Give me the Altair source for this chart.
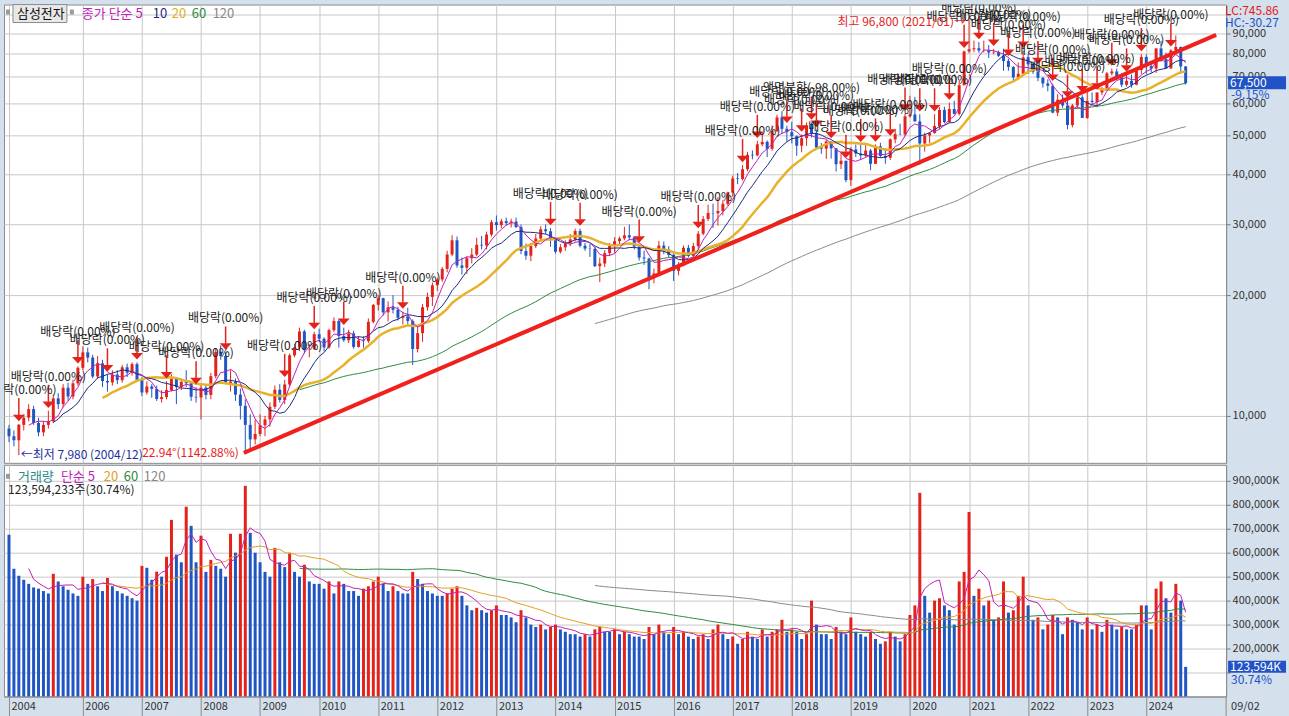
import altair as alt
import pandas as pd

FONT = "Noto Sans CJK KR"
RED = "#e3231b"
BLUE = "#1f56c3"
BG = "#d5e0ed"
GRID = "#c8c8c8"

# ---- monthly candles, 2004-10 .. 2024-09 (split-adjusted KRW) ----
opens = [
    9300, 8900, 8700,
    9500, 9900, 10400, 9600, 9100, 9500, 9700, 11060, 10700, 11760, 11180, 12060,
    13180, 14400, 13980, 12540, 13520, 12220, 12120, 12680, 12280, 13220, 12820, 13460,
    12300, 11440, 11840, 11680, 11020, 11140, 11600, 12380, 11800, 12160, 12060, 11160,
    11120, 11760, 11280, 12560, 14440, 14100, 12060, 12180, 11300, 10600, 9500, 8740,
    9020, 9480, 9800, 10540, 11620, 10960, 11980, 14160, 14820, 16240, 14660, 14700,
    15980, 15580, 14820, 16360, 17240, 15820, 15440, 16060, 14860, 15420, 15360, 17160,
    18920, 19660, 18120, 18660, 18380, 17560, 17700, 17240, 14680, 16080, 18660, 19800,
    21160, 21880, 23260, 25260, 27400, 23720, 23400, 24720, 25240, 26700, 26600, 28320,
    30400, 29900, 30580, 30240, 30520, 29580, 25760, 25080, 26500, 27680, 29180, 28860,
    27440, 25660, 26320, 26920, 27540, 28900, 26560, 26120, 26080, 23620, 23980, 25460,
    26540, 27260, 27700, 28200, 27860, 26440, 24820, 24680, 22140, 22660, 26580, 25980,
    25200, 23000, 23720, 26240, 25060, 26500, 28440, 30960, 32060, 32000, 32420, 33780,
    36040, 39080, 38940, 41200, 44760, 44600, 47540, 48200, 46320, 51280, 55460, 51940,
    50960, 49800, 47140, 49220, 53000, 50700, 46650, 46350, 48300, 46450, 42400, 43250,
    38700, 46150, 45100, 44650, 45850, 42500, 47000, 44450, 44000, 48900, 50400, 50300,
    55800, 56400, 54200, 47750, 50000, 50700, 52800, 57900, 54000, 58200, 56600, 66700,
    81000, 82000, 82500, 81400, 81500, 80500, 80700, 79000, 76700, 74100, 69800, 71300,
    78300, 75200, 72100, 69600, 67400, 66500, 57000, 61400, 59400, 53100, 59400, 62200,
    55300, 61000, 60600, 64000, 65500, 71400, 72200, 69800, 66900, 68400, 66900, 72800,
    78500, 74400, 73400, 82400, 77500, 73500, 81500, 83100, 74300,
]
highs = [
    9500, 9200, 9550,
    10100, 10700, 10600, 9900, 9700, 10300, 11300, 11400, 12000, 12100, 12300, 13300,
    14900, 14800, 14200, 14100, 13800, 12700, 13000, 13000, 13400, 13500, 13600, 13600,
    12500, 12200, 12000, 11900, 11600, 12200, 12700, 12500, 12400, 13000, 12200, 11800,
    12000, 12000, 12800, 14700, 15000, 14400, 13000, 12400, 11700, 11000, 10100, 9800,
    10100, 10000, 10800, 11900, 12000, 12300, 14300, 15100, 16600, 16400, 15100, 16200,
    16500, 15700, 16500, 17600, 17400, 16600, 16400, 16300, 15800, 15800, 17500, 19000,
    20000, 19700, 19300, 20000, 18700, 18200, 18600, 17400, 16700, 19000, 20300, 21500,
    22100, 23500, 25800, 28200, 28000, 24800, 25000, 26200, 27800, 28100, 28800, 30800,
    31600, 31000, 31200, 31000, 31200, 30000, 26900, 27000, 28400, 29700, 30000, 29400,
    27600, 26800, 27400, 28400, 29300, 29300, 27000, 26900, 26400, 24800, 25900, 27000,
    27900, 28000, 29600, 30000, 28000, 26600, 25800, 24800, 23300, 27300, 27200, 26500,
    25400, 24200, 26600, 26700, 27000, 28900, 31500, 33600, 33800, 35100, 34500, 36200,
    39700, 40300, 42200, 45500, 45900, 48500, 51000, 48600, 53000, 56300, 57520, 52900,
    54100, 50000, 50300, 53900, 53900, 51700, 47900, 48800, 48450, 46500, 45200, 43250,
    46750, 47500, 47400, 47850, 46300, 47500, 47950, 46500, 49150, 51700, 53500, 56700,
    62800, 62400, 56500, 50800, 51000, 56500, 58800, 59000, 60400, 61000, 68500, 81300,
    96800, 86200, 85500, 86200, 84000, 82200, 81400, 82300, 77700, 74400, 76000, 81300,
    79800, 76400, 74100, 70000, 69000, 67300, 63400, 63300, 61100, 59900, 63200, 63000,
    64600, 64000, 64000, 66000, 72000, 73400, 73400, 71400, 71000, 71000, 73000, 79800,
    79600, 75200, 82500, 86000, 80500, 82000, 88800, 83300, 74500,
]
lows = [
    8600, 8400, 7980,
    9200, 9700, 9500, 8900, 8900, 9300, 9600, 10400, 10500, 10900, 11000, 11900,
    13000, 13600, 12400, 12400, 11800, 11500, 11900, 12000, 12100, 12500, 12600, 12200,
    11200, 11300, 11100, 10900, 10800, 11000, 11500, 10700, 11600, 11800, 10900, 10800,
    9800, 11000, 11000, 12400, 13800, 12000, 11500, 10900, 9800, 8150, 8200, 8500,
    8900, 8900, 9400, 10400, 10800, 10700, 11800, 14000, 14500, 14300, 14000, 14600,
    15300, 14500, 14700, 16200, 14800, 15300, 15200, 14700, 14800, 14800, 15200, 17000,
    18300, 17800, 17200, 18000, 17300, 16900, 16900, 13400, 14400, 15300, 18300, 18800,
    20500, 21600, 22800, 25000, 23400, 22500, 22600, 24000, 25000, 26000, 26000, 28000,
    29000, 29400, 29800, 29500, 29400, 25300, 24500, 24300, 26200, 27300, 28400, 26400,
    25400, 25400, 25800, 26500, 27200, 26300, 25800, 24900, 23500, 21560, 23500, 25000,
    25500, 26800, 27400, 27400, 26000, 24400, 23800, 20700, 21400, 22500, 25300, 24900,
    21700, 22400, 23600, 24800, 24300, 25900, 28200, 30600, 29400, 29800, 31600, 33400,
    35200, 37800, 38600, 40700, 43600, 44400, 47000, 44200, 45800, 51000, 50500, 48300,
    47800, 44500, 45400, 47100, 49400, 46500, 45000, 43700, 43800, 40650, 41250, 38250,
    37450, 44200, 43400, 44200, 41000, 42450, 44050, 42500, 43450, 47800, 50100, 49800,
    55400, 54200, 42300, 45600, 47850, 50500, 51800, 53600, 53800, 56400, 56100, 66700,
    80200, 80600, 80300, 80500, 78000, 79600, 78500, 72500, 72500, 68300, 69000, 71000,
    71200, 71200, 68300, 65800, 64400, 56800, 55900, 58600, 51800, 52400, 58300, 55300,
    55000, 59800, 58800, 63000, 64600, 70600, 68700, 66000, 66200, 65800, 66700, 71200,
    71200, 71700, 71600, 76300, 73300, 73300, 79500, 71400, 67000,
]
closes = [
    8900, 8700, 9500,
    9900, 10400, 9600, 9100, 9500, 9700, 11060, 10700, 11760, 11180, 12060, 13180,
    14400, 13980, 12540, 13520, 12220, 12120, 12680, 12280, 13220, 12820, 13460, 12300,
    11440, 11840, 11680, 11020, 11140, 11600, 12380, 11800, 12160, 12060, 11160, 11120,
    11760, 11280, 12560, 14440, 14100, 12060, 12180, 11300, 10600, 9500, 8740, 9020,
    9480, 9800, 10540, 11620, 10960, 11980, 14160, 14820, 16240, 14660, 14700, 15980,
    15580, 14820, 16360, 17240, 15820, 15440, 16060, 14860, 15420, 15360, 17160, 18920,
    19660, 18120, 18660, 18380, 17560, 17700, 17240, 14680, 16080, 18660, 19800, 21160,
    21880, 23260, 25260, 27400, 23720, 23400, 24720, 25240, 26700, 26600, 28320, 30400,
    29900, 30580, 30240, 30520, 29580, 25760, 25080, 26500, 27680, 29180, 28860, 27440,
    25660, 26320, 26920, 27540, 28900, 26560, 26120, 26080, 23620, 23980, 25460, 26540,
    27260, 27700, 28200, 27860, 26440, 24820, 24680, 22140, 22660, 26580, 25980, 25200,
    23000, 23720, 26240, 25060, 26500, 28440, 30960, 32060, 32000, 32420, 33780, 36040,
    39080, 38940, 41200, 44760, 44600, 47540, 48200, 46320, 51280, 55460, 51940, 50960,
    49800, 47140, 49220, 53000, 50700, 46650, 46350, 48300, 46450, 42400, 43250, 38700,
    46150, 45100, 44650, 45850, 42500, 47000, 44450, 44000, 48900, 50400, 50300, 55800,
    56400, 54200, 47750, 50000, 50700, 52800, 57900, 54000, 58200, 56600, 66700, 81000,
    82000, 82500, 81400, 81500, 80500, 80700, 79000, 76700, 74100, 69800, 71300, 78300,
    75200, 72100, 69600, 67400, 66500, 57000, 61400, 59400, 53100, 59400, 62200, 55300,
    61000, 60600, 64000, 65500, 71400, 72200, 69800, 66900, 68400, 66900, 72800, 78500,
    74400, 73400, 82400, 77500, 73500, 81500, 83100, 74300, 67500,
]
# volume in thousands of shares (K)
volumes = [
    675000, 533000, 504000,
    487000, 470000, 455000, 450000, 440000, 430000, 512000, 480000, 460000, 445000, 430000, 420000,
    500000, 470000, 490000, 460000, 440000, 495000, 460000, 440000, 430000, 420000, 410000, 400000,
    545000, 537000, 487000, 521000, 500000, 583000, 737000, 592000, 560000, 792000, 712000, 560000,
    671000, 520000, 570000, 545000, 533000, 500000, 679000, 600000, 679000, 879000, 683000, 600000,
    560000, 520000, 500000, 620000, 560000, 540000, 600000, 520000, 500000, 550000, 480000, 470000,
    470000, 450000, 480000, 430000, 480000, 470000, 440000, 440000, 420000, 450000, 460000, 480000,
    500000, 470000, 440000, 460000, 440000, 430000, 430000, 520000, 490000, 470000, 440000, 430000,
    420000, 420000, 430000, 450000, 460000, 420000, 380000, 360000, 370000, 360000, 350000, 360000,
    380000, 340000, 340000, 330000, 310000, 360000, 330000, 300000, 290000, 300000, 280000, 290000,
    300000, 280000, 270000, 260000, 260000, 250000, 260000, 250000, 280000, 290000, 270000, 270000,
    280000, 260000, 270000, 260000, 250000, 250000, 240000, 290000, 260000, 300000, 270000, 260000,
    290000, 260000, 270000, 250000, 240000, 250000, 260000, 240000, 280000, 300000, 260000, 240000,
    250000, 220000, 240000, 270000, 250000, 240000, 280000, 250000, 270000, 280000, 320000, 270000,
    280000, 270000, 240000, 260000, 400000, 300000, 260000, 260000, 240000, 290000, 270000, 260000,
    330000, 270000, 260000, 250000, 270000, 240000, 220000, 230000, 270000, 250000, 230000, 260000,
    340000, 380000, 850000, 420000, 350000, 400000, 410000, 380000, 360000, 300000, 480000, 520000,
    770000, 420000, 450000, 380000, 400000, 320000, 330000, 480000, 350000, 360000, 420000, 500000,
    380000, 320000, 330000, 280000, 300000, 340000, 330000, 260000, 330000, 320000, 310000, 280000,
    330000, 280000, 300000, 270000, 320000, 300000, 280000, 290000, 280000, 280000, 300000, 380000,
    380000, 280000, 450000, 480000, 410000, 350000, 470000, 400000, 123594,
]

# x-axis: bar index of the first bar of each labelled year
year_ticks = [0, 15, 27, 39, 51, 63, 75, 87, 99, 111, 123, 135, 147, 159, 171, 183, 195, 207, 219, 231]
price_ticks = [10000, 20000, 30000, 40000, 50000, 60000, 70000, 80000, 90000, 100000]
vol_ticks = [100000, 200000, 300000, 400000, 500000, 600000, 700000, 800000, 900000]

# ex-dividend markers (bar index) and stock split
div_idx = [2, 8, 14, 20, 26, 32, 38, 44, 56, 62, 68, 80, 110, 116, 128, 140,
           149, 152, 158, 161, 164, 167, 170, 173, 176, 179, 182, 185, 188, 191,
           194, 197, 200, 203, 206, 209, 212, 215, 218, 221, 224, 227, 230, 236]
split_idx = [163]

# trend line endpoints (bar index, price)
trend_i = [47.7, 245.2]
trend_p = [8090, 89100]

last_price = 67500
last_vol = 123594

# ------------------------------------------------------------------
n = len(closes)
df = pd.DataFrame({"i": list(range(n)), "open": opens, "high": highs,
                   "low": lows, "close": closes, "vol": volumes})
for w in (5, 10, 20, 60, 120):
    df[f"ma{w}"] = df["close"].rolling(w).mean()
for w in (5, 20, 60, 120):
    df[f"vma{w}"] = df["vol"].rolling(w).mean()
df["up"] = df["close"] >= df["open"]
df["vup"] = df["vol"] > df["vol"].shift(1)

ann = df.loc[div_idx, ["i", "high"]].copy()
ann["label"] = "배당락(0.00%)"
sp = df.loc[split_idx, ["i", "high"]].copy()
sp["label"] = "액면분할(-98.00%)"
ann = pd.concat([ann, sp])

trend = pd.DataFrame({"i": trend_i, "p": trend_p})

W, H1, H2 = 1224, 459, 232

xscale = alt.Scale(domain=[0, 246.2], nice=False, zero=False)
x_axis_top = alt.Axis(values=year_ticks, grid=True, gridColor=GRID, labels=False,
                      ticks=False, domain=False, minExtent=0, maxExtent=0)
x_axis_bot = alt.Axis(values=year_ticks, grid=True, gridColor=GRID,
                      labelExpr="datum.value == 0 ? '2004' : toString(2004 + (datum.value + 9) / 12)",
                      tickSize=20, tickColor="#8c8c8c", labelAlign="left", labelBaseline="middle",
                      labelPadding=-10, labelOffset=2, labelFlush=False, labelOverlap=False,
                      domainColor="#8c8c8c", labelFont=FONT, labelFontSize=11, labelColor="#333",
                      minExtent=20, maxExtent=20)
yscale = alt.Scale(type="log", domain=[7640, 106000], nice=False)
y_axis_top = alt.Axis(orient="right", values=price_ticks,
                      labelExpr="datum.value >= 100000 ? '' : format(datum.value, ',')",
                      grid=True, gridColor=GRID, tickSize=4, tickColor="#777",
                      domainColor="#8c8c8c", labelFont=FONT, labelFontSize=11, labelColor="#333",
                      labelPadding=2, minExtent=62, maxExtent=62)
vscale = alt.Scale(domain=[0, 966700], nice=False, zero=True)
y_axis_bot = alt.Axis(orient="right", values=vol_ticks,
                      labelExpr="datum.value < 150000 ? '' : format(datum.value, ',') + 'K'",
                      grid=True, gridColor=GRID, tickSize=4, tickColor="#777",
                      domainColor="#8c8c8c", labelFont=FONT, labelFontSize=11, labelColor="#333",
                      labelPadding=2, minExtent=62, maxExtent=62)


def XT(f="i"):
    return alt.X(f, type="quantitative", scale=xscale, axis=x_axis_top, title=None)


def XB(f="i"):
    return alt.X(f, type="quantitative", scale=xscale, axis=x_axis_bot, title=None)


def YT(f):
    return alt.Y(f, type="quantitative", scale=yscale, axis=y_axis_top, title=None)


def YB(f):
    return alt.Y(f, type="quantitative", scale=vscale, axis=y_axis_bot, title=None)


candle_color = alt.condition("datum.up", alt.value(RED), alt.value(BLUE))
vol_color = alt.condition("datum.vup", alt.value(RED), alt.value(BLUE))

base = alt.Chart(df)

wicks = base.mark_rule(strokeWidth=1).encode(x=XT(), y=YT("low"), y2="high", color=candle_color)
bodies = base.mark_bar(size=3).encode(x=XT(), y=YT("open"), y2="close", color=candle_color)


def ma_line(field, color, width):
    return base.mark_line(color=color, strokeWidth=width).encode(x=XT(), y=YT(field))


ma120 = ma_line("ma120", "#8a8a8a", 1)
ma60 = ma_line("ma60", "#2e8b3e", 1)
ma20 = ma_line("ma20", "#e8b12a", 2.5)
ma10 = ma_line("ma10", "#1c2a80", 1)
ma5 = ma_line("ma5", "#c020b8", 1)

trend_line = alt.Chart(trend).mark_line(color="#f0201c", strokeWidth=4).encode(x=XT(), y=YT("p"))

arr_line = alt.Chart(ann).mark_rule(color=RED, strokeWidth=1.5, yOffset=-9, y2Offset=-26).encode(
    x=XT(), y=YT("high"), y2="high")
arr_head = alt.Chart(ann).mark_point(shape="M-1,-0.55L1,-0.55L0,0.55Z", size=140, filled=True,
                                     color=RED, opacity=1, yOffset=-6).encode(x=XT(), y=YT("high"))
arr_text = alt.Chart(ann).mark_text(dy=-27, baseline="bottom", align="center", fontSize=12,
                                    color="#222", clip=True).encode(x=XT(), y=YT("high"), text="label:N")

hi_df = pd.DataFrame({"i": [195], "p": [96800], "t": ["최고 96,800 (2021/01)→"]})
hi_text = alt.Chart(hi_df).mark_text(align="right", dx=-3, dy=2, baseline="middle", fontSize=12,
                                     color=RED).encode(x=XT(), y=YT("p"), text="t:N")
lo_df = pd.DataFrame({"i": [2], "p": [7980], "t": ["←최저 7,980 (2004/12)"]})
lo_text = alt.Chart(lo_df).mark_text(align="left", dx=2, baseline="middle", fontSize=12,
                                     color="#1b2f9e").encode(x=XT(), y=YT("p"), text="t:N")
tr_df = pd.DataFrame({"i": [trend_i[0]], "p": [trend_p[0]], "t": ["22.94°(1142.88%)"]})
tr_text = alt.Chart(tr_df).mark_text(align="right", dx=-5, baseline="middle", fontSize=12,
                                     color=RED).encode(x=XT(), y=YT("p"), text="t:N")

last_df = pd.DataFrame({"p": [last_price], "t": ["67,500"], "c": ["-9.15%"]})
last_box = alt.Chart(last_df).mark_rect(color="#2152c6", yOffset=-7, y2Offset=6).encode(
    x=alt.value(1226), x2=alt.value(1284), y=YT("p"), y2="p")
last_txt = alt.Chart(last_df).mark_text(align="left", baseline="middle", fontSize=12, color="white",
                                        dy=-0.5).encode(x=alt.value(1228), y=YT("p"), text="t:N")
last_chg = alt.Chart(last_df).mark_text(align="left", baseline="middle", fontSize=12, color="#2152c6",
                                        dy=12).encode(x=alt.value(1229), y=YT("p"), text="c:N")


def label(text, x, y, color, size=12, align="left"):
    return alt.Chart(pd.DataFrame({"t": [text]})).mark_text(
        align=align, baseline="middle", fontSize=size, color=color).encode(
        x=alt.value(x), y=alt.value(y), text="t:N")


def box(x1, x2, y1, y2, fill, stroke=None):
    kw = {"color": fill}
    if stroke:
        kw["stroke"] = stroke
        kw["strokeWidth"] = 1
    return alt.Chart(pd.DataFrame({"a": [0]})).mark_rect(**kw).encode(
        x=alt.value(x1), x2=alt.value(x2), y=alt.value(y1), y2=alt.value(y2))


top_legend = [
    box(2, 6, 5, 10, "#9a9a9a"),
    box(9, 63, 0, 18, "#e8e8e8", "#8c8c8c"),
    label("삼성전자", 13, 9, "#111", 13),
    box(66, 70, 5, 10, "#9a9a9a"),
    label("종가 단순 5", 78, 9, "#c020b8", 13),
    label("10", 149, 9, "#1c2a80", 13),
    label("20", 168, 9, "#e0b020", 13),
    label("60", 188, 9, "#2e8b3e", 13),
    label("120", 209, 9, "#888", 13),
    label("LC:745.86", 1223, 6, "#e02020", 12),
    label("HC:-30.27", 1223, 18, "#2152c6", 12),
]

top = alt.layer(
    wicks, bodies, ma120, ma60, ma20, ma10, ma5, trend_line,
    arr_line, arr_head, arr_text, hi_text, lo_text, tr_text,
    last_box, last_txt, last_chg, *top_legend,
).properties(width=W, height=H1)

# ---- volume panel ----
vbars = base.mark_bar(size=3).encode(x=XB(), y=YB("vol"), color=vol_color)


def vma_line(field, color, width=1):
    return base.mark_line(color=color, strokeWidth=width).encode(x=XB(), y=YB(field))


vma120 = vma_line("vma120", "#8a8a8a")
vma60 = vma_line("vma60", "#2e8b3e")
vma20 = vma_line("vma20", "#e0a020")
vma5 = vma_line("vma5", "#c020b8")

vlast_df = pd.DataFrame({"v": [last_vol], "t": ["123,594K"], "c": ["30.74%"]})
vlast_box = alt.Chart(vlast_df).mark_rect(color="#2152c6", yOffset=-6, y2Offset=6).encode(
    x=alt.value(1226), x2=alt.value(1284), y=YB("v"), y2="v")
vlast_txt = alt.Chart(vlast_df).mark_text(align="left", baseline="middle", fontSize=12,
                                          color="white").encode(x=alt.value(1228), y=YB("v"), text="t:N")
vlast_chg = alt.Chart(vlast_df).mark_text(align="left", baseline="middle", fontSize=12,
                                          color="#2152c6", dy=13).encode(x=alt.value(1229), y=YB("v"), text="c:N")

bot_legend = [
    box(2, 6, 9, 14, "#9a9a9a"),
    label("거래량", 14, 12, "#2a8a8a", 13),
    label("단순 5", 57, 12, "#c020b8", 13),
    label("20", 100, 12, "#e0a020", 13),
    label("60", 120, 12, "#2e8b3e", 13),
    label("120", 140, 12, "#888", 13),
    label("123,594,233주(30.74%)", 4, 25, "#222", 12),
    label("09/02", 1229, 243, "#333", 11),
]
sep = alt.Chart(pd.DataFrame({"a": [0]})).mark_rule(color="#8c8c8c").encode(
    x=alt.value(1224), y=alt.value(232), y2=alt.value(252))

bottom = alt.layer(
    vbars, vma120, vma60, vma20, vma5, vlast_box, vlast_txt, vlast_chg, sep, *bot_legend
).properties(width=W, height=H2)

chart = alt.vconcat(top, bottom, spacing=0).properties(
    background=BG,
    padding={"left": 3, "top": 3, "right": 0, "bottom": 2},
).configure(font=FONT).configure_view(stroke="#8c8c8c", fill="white")

chart.save("out.html", embed_options={"renderer": "svg", "actions": False})
